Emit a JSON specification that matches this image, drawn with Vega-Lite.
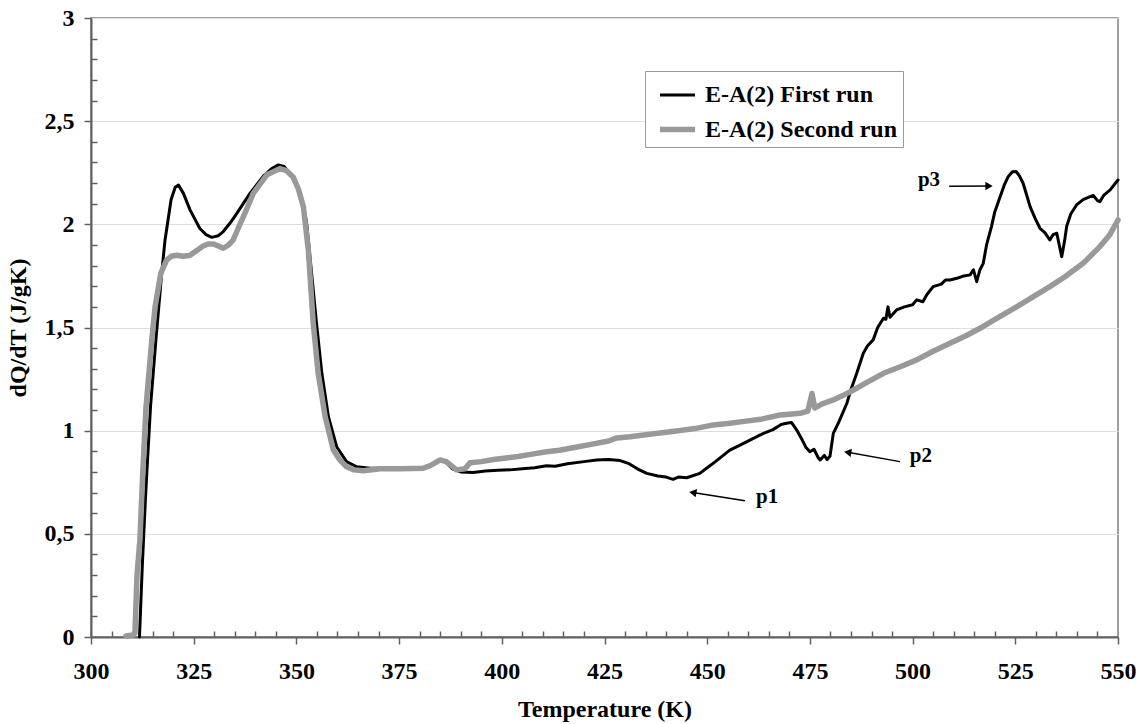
{
  "$schema": "https://vega.github.io/schema/vega-lite/v6.json",
  "width": 1027,
  "height": 619,
  "autosize": {"type": "none"},
  "padding": {"left": 91, "top": 18, "right": 22, "bottom": 87},
  "background": "white",
  "config": {
    "font": "Liberation Serif",
    "view": {"stroke": "#808080", "strokeWidth": 1.5},
    "legend": {
      "orient": "none",
      "legendX": 554,
      "legendY": 53,
      "strokeColor": "#9a9a9a",
      "fillColor": "white",
      "padding": 5,
      "symbolOffset": 7,
      "labelFont": "Liberation Serif",
      "labelFontSize": 24,
      "labelFontWeight": "bold",
      "labelColor": "black",
      "labelLimit": 400,
      "labelOffset": 7,
      "symbolType": "stroke",
      "symbolSize": 1225,
      "rowPadding": 2
    }
  },
  "resolve": {"axis": {"x": "independent", "y": "independent"}},
  "datasets": {
    "curves": [
      {"series": "E-A(2) First run", "T": 311.8, "Q": 0},
      {"series": "E-A(2) First run", "T": 312.5, "Q": 0.35},
      {"series": "E-A(2) First run", "T": 313.2, "Q": 0.65},
      {"series": "E-A(2) First run", "T": 313.6, "Q": 0.8},
      {"series": "E-A(2) First run", "T": 314.5, "Q": 1.12},
      {"series": "E-A(2) First run", "T": 315.8, "Q": 1.44},
      {"series": "E-A(2) First run", "T": 317.2, "Q": 1.76},
      {"series": "E-A(2) First run", "T": 318.0, "Q": 1.92},
      {"series": "E-A(2) First run", "T": 318.6, "Q": 2.0},
      {"series": "E-A(2) First run", "T": 319.5, "Q": 2.12},
      {"series": "E-A(2) First run", "T": 320.5, "Q": 2.18},
      {"series": "E-A(2) First run", "T": 321.3, "Q": 2.19},
      {"series": "E-A(2) First run", "T": 322.5, "Q": 2.15},
      {"series": "E-A(2) First run", "T": 324.1, "Q": 2.07},
      {"series": "E-A(2) First run", "T": 326.5, "Q": 1.98},
      {"series": "E-A(2) First run", "T": 328.0, "Q": 1.95},
      {"series": "E-A(2) First run", "T": 329.4, "Q": 1.937},
      {"series": "E-A(2) First run", "T": 331.0, "Q": 1.945},
      {"series": "E-A(2) First run", "T": 332.2, "Q": 1.965},
      {"series": "E-A(2) First run", "T": 334.0, "Q": 2.01},
      {"series": "E-A(2) First run", "T": 335.5, "Q": 2.053},
      {"series": "E-A(2) First run", "T": 338.7, "Q": 2.15},
      {"series": "E-A(2) First run", "T": 342.0, "Q": 2.235},
      {"series": "E-A(2) First run", "T": 344.0, "Q": 2.27},
      {"series": "E-A(2) First run", "T": 345.6, "Q": 2.288},
      {"series": "E-A(2) First run", "T": 347.0, "Q": 2.28},
      {"series": "E-A(2) First run", "T": 348.4, "Q": 2.248},
      {"series": "E-A(2) First run", "T": 350.0, "Q": 2.19},
      {"series": "E-A(2) First run", "T": 350.9, "Q": 2.15},
      {"series": "E-A(2) First run", "T": 352.0, "Q": 2.06},
      {"series": "E-A(2) First run", "T": 352.5, "Q": 2.005},
      {"series": "E-A(2) First run", "T": 353.7, "Q": 1.763},
      {"series": "E-A(2) First run", "T": 354.9, "Q": 1.52},
      {"series": "E-A(2) First run", "T": 356.2, "Q": 1.278},
      {"series": "E-A(2) First run", "T": 357.8, "Q": 1.068},
      {"series": "E-A(2) First run", "T": 359.8, "Q": 0.922},
      {"series": "E-A(2) First run", "T": 362.2, "Q": 0.85},
      {"series": "E-A(2) First run", "T": 364.7, "Q": 0.825},
      {"series": "E-A(2) First run", "T": 367.9, "Q": 0.818},
      {"series": "E-A(2) First run", "T": 372.0, "Q": 0.818},
      {"series": "E-A(2) First run", "T": 376.0, "Q": 0.82},
      {"series": "E-A(2) First run", "T": 380.9, "Q": 0.818},
      {"series": "E-A(2) First run", "T": 382.0, "Q": 0.822},
      {"series": "E-A(2) First run", "T": 385.0, "Q": 0.86},
      {"series": "E-A(2) First run", "T": 386.0, "Q": 0.855},
      {"series": "E-A(2) First run", "T": 388.0, "Q": 0.815},
      {"series": "E-A(2) First run", "T": 390.0, "Q": 0.8},
      {"series": "E-A(2) First run", "T": 393.0, "Q": 0.797},
      {"series": "E-A(2) First run", "T": 396.0, "Q": 0.805},
      {"series": "E-A(2) First run", "T": 399.0, "Q": 0.808},
      {"series": "E-A(2) First run", "T": 402.0, "Q": 0.81},
      {"series": "E-A(2) First run", "T": 405.0, "Q": 0.815},
      {"series": "E-A(2) First run", "T": 408.0, "Q": 0.82},
      {"series": "E-A(2) First run", "T": 410.9, "Q": 0.83},
      {"series": "E-A(2) First run", "T": 413.0, "Q": 0.828},
      {"series": "E-A(2) First run", "T": 416.0, "Q": 0.84},
      {"series": "E-A(2) First run", "T": 420.0, "Q": 0.85},
      {"series": "E-A(2) First run", "T": 423.1, "Q": 0.858},
      {"series": "E-A(2) First run", "T": 426.0, "Q": 0.86},
      {"series": "E-A(2) First run", "T": 428.8, "Q": 0.855},
      {"series": "E-A(2) First run", "T": 431.0, "Q": 0.84},
      {"series": "E-A(2) First run", "T": 433.0, "Q": 0.815},
      {"series": "E-A(2) First run", "T": 435.3, "Q": 0.793},
      {"series": "E-A(2) First run", "T": 438.0, "Q": 0.78},
      {"series": "E-A(2) First run", "T": 440.0, "Q": 0.775},
      {"series": "E-A(2) First run", "T": 441.7, "Q": 0.764},
      {"series": "E-A(2) First run", "T": 443.0, "Q": 0.775},
      {"series": "E-A(2) First run", "T": 445.0, "Q": 0.772},
      {"series": "E-A(2) First run", "T": 448.2, "Q": 0.793},
      {"series": "E-A(2) First run", "T": 450.0, "Q": 0.82},
      {"series": "E-A(2) First run", "T": 452.0, "Q": 0.85},
      {"series": "E-A(2) First run", "T": 455.5, "Q": 0.906},
      {"series": "E-A(2) First run", "T": 458.0, "Q": 0.93},
      {"series": "E-A(2) First run", "T": 461.0, "Q": 0.96},
      {"series": "E-A(2) First run", "T": 463.7, "Q": 0.987},
      {"series": "E-A(2) First run", "T": 466.0, "Q": 1.005},
      {"series": "E-A(2) First run", "T": 468.0, "Q": 1.03},
      {"series": "E-A(2) First run", "T": 469.3, "Q": 1.036},
      {"series": "E-A(2) First run", "T": 470.5, "Q": 1.04},
      {"series": "E-A(2) First run", "T": 471.8, "Q": 1.003},
      {"series": "E-A(2) First run", "T": 473.0, "Q": 0.96},
      {"series": "E-A(2) First run", "T": 474.0, "Q": 0.92},
      {"series": "E-A(2) First run", "T": 475.0, "Q": 0.898},
      {"series": "E-A(2) First run", "T": 476.0, "Q": 0.91},
      {"series": "E-A(2) First run", "T": 477.0, "Q": 0.87},
      {"series": "E-A(2) First run", "T": 477.5, "Q": 0.858},
      {"series": "E-A(2) First run", "T": 478.5, "Q": 0.88},
      {"series": "E-A(2) First run", "T": 479.2, "Q": 0.86},
      {"series": "E-A(2) First run", "T": 479.9, "Q": 0.877},
      {"series": "E-A(2) First run", "T": 480.7, "Q": 0.987},
      {"series": "E-A(2) First run", "T": 482.0, "Q": 1.04},
      {"series": "E-A(2) First run", "T": 484.0, "Q": 1.133},
      {"series": "E-A(2) First run", "T": 485.0, "Q": 1.2},
      {"series": "E-A(2) First run", "T": 486.4, "Q": 1.278},
      {"series": "E-A(2) First run", "T": 488.0, "Q": 1.375},
      {"series": "E-A(2) First run", "T": 489.0, "Q": 1.41},
      {"series": "E-A(2) First run", "T": 490.4, "Q": 1.44},
      {"series": "E-A(2) First run", "T": 491.5, "Q": 1.5},
      {"series": "E-A(2) First run", "T": 492.9, "Q": 1.545},
      {"series": "E-A(2) First run", "T": 493.5, "Q": 1.54},
      {"series": "E-A(2) First run", "T": 494.0, "Q": 1.6},
      {"series": "E-A(2) First run", "T": 494.5, "Q": 1.55},
      {"series": "E-A(2) First run", "T": 496.1, "Q": 1.585},
      {"series": "E-A(2) First run", "T": 498.0, "Q": 1.6},
      {"series": "E-A(2) First run", "T": 500.0, "Q": 1.61},
      {"series": "E-A(2) First run", "T": 501.0, "Q": 1.634},
      {"series": "E-A(2) First run", "T": 502.5, "Q": 1.625},
      {"series": "E-A(2) First run", "T": 503.5, "Q": 1.66},
      {"series": "E-A(2) First run", "T": 505.0, "Q": 1.698},
      {"series": "E-A(2) First run", "T": 507.0, "Q": 1.71},
      {"series": "E-A(2) First run", "T": 508.0, "Q": 1.73},
      {"series": "E-A(2) First run", "T": 509.1, "Q": 1.73},
      {"series": "E-A(2) First run", "T": 511.0, "Q": 1.74},
      {"series": "E-A(2) First run", "T": 512.5, "Q": 1.75},
      {"series": "E-A(2) First run", "T": 514.0, "Q": 1.755},
      {"series": "E-A(2) First run", "T": 514.8, "Q": 1.78},
      {"series": "E-A(2) First run", "T": 515.6, "Q": 1.722},
      {"series": "E-A(2) First run", "T": 516.4, "Q": 1.78},
      {"series": "E-A(2) First run", "T": 517.2, "Q": 1.811},
      {"series": "E-A(2) First run", "T": 518.0, "Q": 1.9},
      {"series": "E-A(2) First run", "T": 519.2, "Q": 1.989},
      {"series": "E-A(2) First run", "T": 520.0, "Q": 2.06},
      {"series": "E-A(2) First run", "T": 521.3, "Q": 2.134},
      {"series": "E-A(2) First run", "T": 522.3, "Q": 2.19},
      {"series": "E-A(2) First run", "T": 523.3, "Q": 2.232},
      {"series": "E-A(2) First run", "T": 524.3, "Q": 2.255},
      {"series": "E-A(2) First run", "T": 525.2, "Q": 2.256},
      {"series": "E-A(2) First run", "T": 526.0, "Q": 2.235},
      {"series": "E-A(2) First run", "T": 526.9, "Q": 2.199},
      {"series": "E-A(2) First run", "T": 527.8, "Q": 2.14},
      {"series": "E-A(2) First run", "T": 528.6, "Q": 2.086},
      {"series": "E-A(2) First run", "T": 529.8, "Q": 2.03},
      {"series": "E-A(2) First run", "T": 531.0, "Q": 1.981},
      {"series": "E-A(2) First run", "T": 532.2, "Q": 1.96},
      {"series": "E-A(2) First run", "T": 533.4, "Q": 1.924},
      {"series": "E-A(2) First run", "T": 534.2, "Q": 1.95},
      {"series": "E-A(2) First run", "T": 535.1, "Q": 1.957},
      {"series": "E-A(2) First run", "T": 535.7, "Q": 1.9},
      {"series": "E-A(2) First run", "T": 536.3, "Q": 1.843},
      {"series": "E-A(2) First run", "T": 537.0, "Q": 1.92},
      {"series": "E-A(2) First run", "T": 537.5, "Q": 1.99},
      {"series": "E-A(2) First run", "T": 538.5, "Q": 2.05},
      {"series": "E-A(2) First run", "T": 539.9, "Q": 2.094},
      {"series": "E-A(2) First run", "T": 541.5, "Q": 2.12},
      {"series": "E-A(2) First run", "T": 543.2, "Q": 2.134},
      {"series": "E-A(2) First run", "T": 544.0, "Q": 2.14},
      {"series": "E-A(2) First run", "T": 545.0, "Q": 2.115},
      {"series": "E-A(2) First run", "T": 545.6, "Q": 2.11},
      {"series": "E-A(2) First run", "T": 546.5, "Q": 2.14},
      {"series": "E-A(2) First run", "T": 548.1, "Q": 2.167},
      {"series": "E-A(2) First run", "T": 549.0, "Q": 2.19},
      {"series": "E-A(2) First run", "T": 550.0, "Q": 2.215},
      {"series": "E-A(2) Second run", "T": 308.5, "Q": 0.005},
      {"series": "E-A(2) Second run", "T": 310.3, "Q": 0.01},
      {"series": "E-A(2) Second run", "T": 310.7, "Q": 0.02},
      {"series": "E-A(2) Second run", "T": 311.2, "Q": 0.3},
      {"series": "E-A(2) Second run", "T": 311.9, "Q": 0.47},
      {"series": "E-A(2) Second run", "T": 312.6, "Q": 0.795},
      {"series": "E-A(2) Second run", "T": 313.4, "Q": 1.116},
      {"series": "E-A(2) Second run", "T": 314.8, "Q": 1.44},
      {"series": "E-A(2) Second run", "T": 315.6, "Q": 1.6},
      {"series": "E-A(2) Second run", "T": 317.0, "Q": 1.764},
      {"series": "E-A(2) Second run", "T": 318.4, "Q": 1.827},
      {"series": "E-A(2) Second run", "T": 319.5, "Q": 1.845},
      {"series": "E-A(2) Second run", "T": 320.9, "Q": 1.85},
      {"series": "E-A(2) Second run", "T": 322.5, "Q": 1.845},
      {"series": "E-A(2) Second run", "T": 324.1, "Q": 1.85},
      {"series": "E-A(2) Second run", "T": 325.5, "Q": 1.87},
      {"series": "E-A(2) Second run", "T": 327.3, "Q": 1.895},
      {"series": "E-A(2) Second run", "T": 328.5, "Q": 1.905},
      {"series": "E-A(2) Second run", "T": 329.8, "Q": 1.905},
      {"series": "E-A(2) Second run", "T": 331.0, "Q": 1.895},
      {"series": "E-A(2) Second run", "T": 332.2, "Q": 1.884},
      {"series": "E-A(2) Second run", "T": 333.5, "Q": 1.9},
      {"series": "E-A(2) Second run", "T": 334.6, "Q": 1.924},
      {"series": "E-A(2) Second run", "T": 335.8, "Q": 1.98},
      {"series": "E-A(2) Second run", "T": 337.1, "Q": 2.037},
      {"series": "E-A(2) Second run", "T": 339.5, "Q": 2.15},
      {"series": "E-A(2) Second run", "T": 342.8, "Q": 2.24},
      {"series": "E-A(2) Second run", "T": 346.0, "Q": 2.27},
      {"series": "E-A(2) Second run", "T": 347.6, "Q": 2.26},
      {"series": "E-A(2) Second run", "T": 349.2, "Q": 2.23},
      {"series": "E-A(2) Second run", "T": 350.5, "Q": 2.17},
      {"series": "E-A(2) Second run", "T": 351.7, "Q": 2.085},
      {"series": "E-A(2) Second run", "T": 352.9, "Q": 1.876},
      {"series": "E-A(2) Second run", "T": 354.1, "Q": 1.52},
      {"series": "E-A(2) Second run", "T": 355.3, "Q": 1.278},
      {"series": "E-A(2) Second run", "T": 357.0, "Q": 1.068},
      {"series": "E-A(2) Second run", "T": 359.0, "Q": 0.906},
      {"series": "E-A(2) Second run", "T": 360.5, "Q": 0.86},
      {"series": "E-A(2) Second run", "T": 362.2, "Q": 0.825},
      {"series": "E-A(2) Second run", "T": 364.0, "Q": 0.81},
      {"series": "E-A(2) Second run", "T": 366.3, "Q": 0.806},
      {"series": "E-A(2) Second run", "T": 370.4, "Q": 0.815},
      {"series": "E-A(2) Second run", "T": 375.2, "Q": 0.815},
      {"series": "E-A(2) Second run", "T": 380.9, "Q": 0.818},
      {"series": "E-A(2) Second run", "T": 383.0, "Q": 0.835},
      {"series": "E-A(2) Second run", "T": 385.0, "Q": 0.858},
      {"series": "E-A(2) Second run", "T": 386.5, "Q": 0.85},
      {"series": "E-A(2) Second run", "T": 389.0, "Q": 0.81},
      {"series": "E-A(2) Second run", "T": 391.0, "Q": 0.815},
      {"series": "E-A(2) Second run", "T": 392.3, "Q": 0.845},
      {"series": "E-A(2) Second run", "T": 395.0, "Q": 0.85},
      {"series": "E-A(2) Second run", "T": 398.0, "Q": 0.86},
      {"series": "E-A(2) Second run", "T": 401.0, "Q": 0.868},
      {"series": "E-A(2) Second run", "T": 404.0, "Q": 0.875},
      {"series": "E-A(2) Second run", "T": 407.0, "Q": 0.885},
      {"series": "E-A(2) Second run", "T": 410.9, "Q": 0.898},
      {"series": "E-A(2) Second run", "T": 414.0, "Q": 0.905},
      {"series": "E-A(2) Second run", "T": 418.0, "Q": 0.92},
      {"series": "E-A(2) Second run", "T": 422.0, "Q": 0.935},
      {"series": "E-A(2) Second run", "T": 426.0, "Q": 0.95},
      {"series": "E-A(2) Second run", "T": 428.0, "Q": 0.965},
      {"series": "E-A(2) Second run", "T": 431.2, "Q": 0.971},
      {"series": "E-A(2) Second run", "T": 435.0, "Q": 0.98},
      {"series": "E-A(2) Second run", "T": 439.0, "Q": 0.99},
      {"series": "E-A(2) Second run", "T": 443.0, "Q": 1.0},
      {"series": "E-A(2) Second run", "T": 447.0, "Q": 1.01},
      {"series": "E-A(2) Second run", "T": 451.5, "Q": 1.028},
      {"series": "E-A(2) Second run", "T": 455.0, "Q": 1.035},
      {"series": "E-A(2) Second run", "T": 459.0, "Q": 1.045},
      {"series": "E-A(2) Second run", "T": 463.0, "Q": 1.055},
      {"series": "E-A(2) Second run", "T": 467.7, "Q": 1.076},
      {"series": "E-A(2) Second run", "T": 470.0, "Q": 1.08},
      {"series": "E-A(2) Second run", "T": 472.6, "Q": 1.084},
      {"series": "E-A(2) Second run", "T": 474.5, "Q": 1.095},
      {"series": "E-A(2) Second run", "T": 475.5, "Q": 1.18},
      {"series": "E-A(2) Second run", "T": 476.2, "Q": 1.11},
      {"series": "E-A(2) Second run", "T": 478.0, "Q": 1.13},
      {"series": "E-A(2) Second run", "T": 480.7, "Q": 1.149},
      {"series": "E-A(2) Second run", "T": 483.0, "Q": 1.17},
      {"series": "E-A(2) Second run", "T": 485.6, "Q": 1.197},
      {"series": "E-A(2) Second run", "T": 489.0, "Q": 1.235},
      {"series": "E-A(2) Second run", "T": 492.9, "Q": 1.278},
      {"series": "E-A(2) Second run", "T": 497.0, "Q": 1.31},
      {"series": "E-A(2) Second run", "T": 501.0, "Q": 1.343},
      {"series": "E-A(2) Second run", "T": 505.0, "Q": 1.385},
      {"series": "E-A(2) Second run", "T": 509.1, "Q": 1.424},
      {"series": "E-A(2) Second run", "T": 513.0, "Q": 1.46},
      {"series": "E-A(2) Second run", "T": 517.2, "Q": 1.505},
      {"series": "E-A(2) Second run", "T": 521.0, "Q": 1.55},
      {"series": "E-A(2) Second run", "T": 525.3, "Q": 1.6},
      {"series": "E-A(2) Second run", "T": 529.0, "Q": 1.645},
      {"series": "E-A(2) Second run", "T": 533.4, "Q": 1.698},
      {"series": "E-A(2) Second run", "T": 537.0, "Q": 1.745},
      {"series": "E-A(2) Second run", "T": 541.5, "Q": 1.811},
      {"series": "E-A(2) Second run", "T": 545.6, "Q": 1.892},
      {"series": "E-A(2) Second run", "T": 548.0, "Q": 1.95},
      {"series": "E-A(2) Second run", "T": 550.0, "Q": 2.021}
    ],
    "notes": [
      {"label": "p1", "T1": 459.2, "Q1": 0.66, "T2": 446.5, "Q2": 0.70, "TL": 464.6, "QL": 0.68, "dir": "left"},
      {"label": "p2", "T1": 496.9, "Q1": 0.85, "T2": 484.2, "Q2": 0.895, "TL": 502.0, "QL": 0.877, "dir": "left"},
      {"label": "p3", "T1": 508.9, "Q1": 2.184, "T2": 518.6, "Q2": 2.186, "TL": 504.0, "QL": 2.215, "dir": "right"}
    ]
  },
  "layer": [
    {
      "data": {"name": "curves"},
      "transform": [{"filter": "datum.series === 'E-A(2) First run'"}],
      "mark": {"type": "line", "strokeJoin": "round", "strokeCap": "round"},
      "encoding": {
        "x": {
          "field": "T", "type": "quantitative",
          "scale": {"domain": [300, 550], "nice": false, "zero": false},
          "axis": {
            "orient": "bottom",
            "values": [300, 325, 350, 375, 400, 425, 450, 475, 500, 525, 550],
            "format": "d",
            "labelOverlap": false,
            "labelFlush": false,
            "labelFont": "Liberation Serif",
            "labelFontWeight": "bold",
            "labelFontSize": 24,
            "labelColor": "black",
            "labelPadding": 15,
            "tickSize": 7,
            "tickColor": "#606060",
            "tickWidth": 1.5,
            "domainColor": "#606060",
            "domainWidth": 2,
            "grid": false,
            "title": "Temperature (K)",
            "titleFont": "Liberation Serif",
            "titleFontWeight": "bold",
            "titleFontSize": 24,
            "titleColor": "black",
            "titlePadding": 14
          }
        },
        "y": {
          "field": "Q", "type": "quantitative",
          "scale": {"domain": [0, 3], "nice": false},
          "axis": {
            "orient": "left",
            "values": [0, 0.5, 1, 1.5, 2, 2.5, 3],
            "format": "~g",
            "labelExpr": "replace(datum.label, '.', ',')",
            "labelOverlap": false,
            "labelFlush": false,
            "labelFont": "Liberation Serif",
            "labelFontWeight": "bold",
            "labelFontSize": 24,
            "labelColor": "black",
            "labelPadding": 10,
            "tickSize": 7,
            "tickColor": "#606060",
            "tickWidth": 1.5,
            "domainColor": "#606060",
            "domainWidth": 2,
            "grid": true,
            "gridColor": "#dedede",
            "gridWidth": 1.2,
            "title": "dQ/dT (J/gK)",
            "titleFont": "Liberation Serif",
            "titleFontWeight": "bold",
            "titleFontSize": 24,
            "titleColor": "black",
            "titlePadding": 14
          }
        },
        "color": {
          "field": "series", "type": "nominal",
          "scale": {"domain": ["E-A(2) First run", "E-A(2) Second run"], "range": ["#000000", "#999999"]},
          "legend": {"title": null}
        },
        "strokeWidth": {
          "field": "series", "type": "nominal",
          "scale": {"domain": ["E-A(2) First run", "E-A(2) Second run"], "range": [3, 5.5]},
          "legend": {"title": null}
        }
      }
    },
    {
      "data": {"name": "curves"},
      "transform": [{"filter": "datum.series === 'E-A(2) Second run'"}],
      "mark": {"type": "line", "strokeJoin": "round", "strokeCap": "round"},
      "encoding": {
        "x": {
          "field": "T", "type": "quantitative",
          "axis": {
            "orient": "bottom",
            "values": [305,310,315,320,330,335,340,345,355,360,365,370,380,385,390,395,405,410,415,420,430,435,440,445,455,460,465,470,480,485,490,495,505,510,515,520,530,535,540,545],
            "labels": false,
            "domain": false,
            "grid": false,
            "title": null,
            "tickSize": -6,
            "tickColor": "#606060",
            "tickWidth": 1.5
          }
        },
        "y": {
          "field": "Q", "type": "quantitative",
          "axis": {
            "orient": "left",
            "values": [0.1,0.2,0.3,0.4,0.6,0.7,0.8,0.9,1.1,1.2,1.3,1.4,1.6,1.7,1.8,1.9,2.1,2.2,2.3,2.4,2.6,2.7,2.8,2.9],
            "labels": false,
            "domain": false,
            "grid": false,
            "title": null,
            "tickSize": -6,
            "tickColor": "#606060",
            "tickWidth": 1.5
          }
        },
        "color": {"field": "series", "type": "nominal"},
        "strokeWidth": {"field": "series", "type": "nominal"}
      }
    },
    {
      "data": {"name": "notes"},
      "mark": {"type": "rule", "color": "black", "strokeWidth": 1.5},
      "encoding": {
        "x": {"field": "T1", "type": "quantitative", "axis": null},
        "y": {"field": "Q1", "type": "quantitative", "axis": null},
        "x2": {"field": "T2"},
        "y2": {"field": "Q2"}
      }
    },
    {
      "data": {"name": "notes"},
      "transform": [{"filter": "datum.dir === 'left'"}],
      "mark": {"type": "point", "shape": "triangle-left", "filled": true, "color": "black", "opacity": 1, "size": 70, "angle": 10},
      "encoding": {
        "x": {"field": "T2", "type": "quantitative", "axis": null},
        "y": {"field": "Q2", "type": "quantitative", "axis": null}
      }
    },
    {
      "data": {"name": "notes"},
      "transform": [{"filter": "datum.dir === 'right'"}],
      "mark": {"type": "point", "shape": "triangle-right", "filled": true, "color": "black", "opacity": 1, "size": 70},
      "encoding": {
        "x": {"field": "T2", "type": "quantitative", "axis": null},
        "y": {"field": "Q2", "type": "quantitative", "axis": null}
      }
    },
    {
      "data": {"name": "notes"},
      "mark": {"type": "text", "font": "Liberation Serif", "fontWeight": "bold", "fontSize": 21, "color": "black", "align": "center", "baseline": "middle"},
      "encoding": {
        "x": {"field": "TL", "type": "quantitative", "axis": null},
        "y": {"field": "QL", "type": "quantitative", "axis": null},
        "text": {"field": "label"}
      }
    }
  ]
}
